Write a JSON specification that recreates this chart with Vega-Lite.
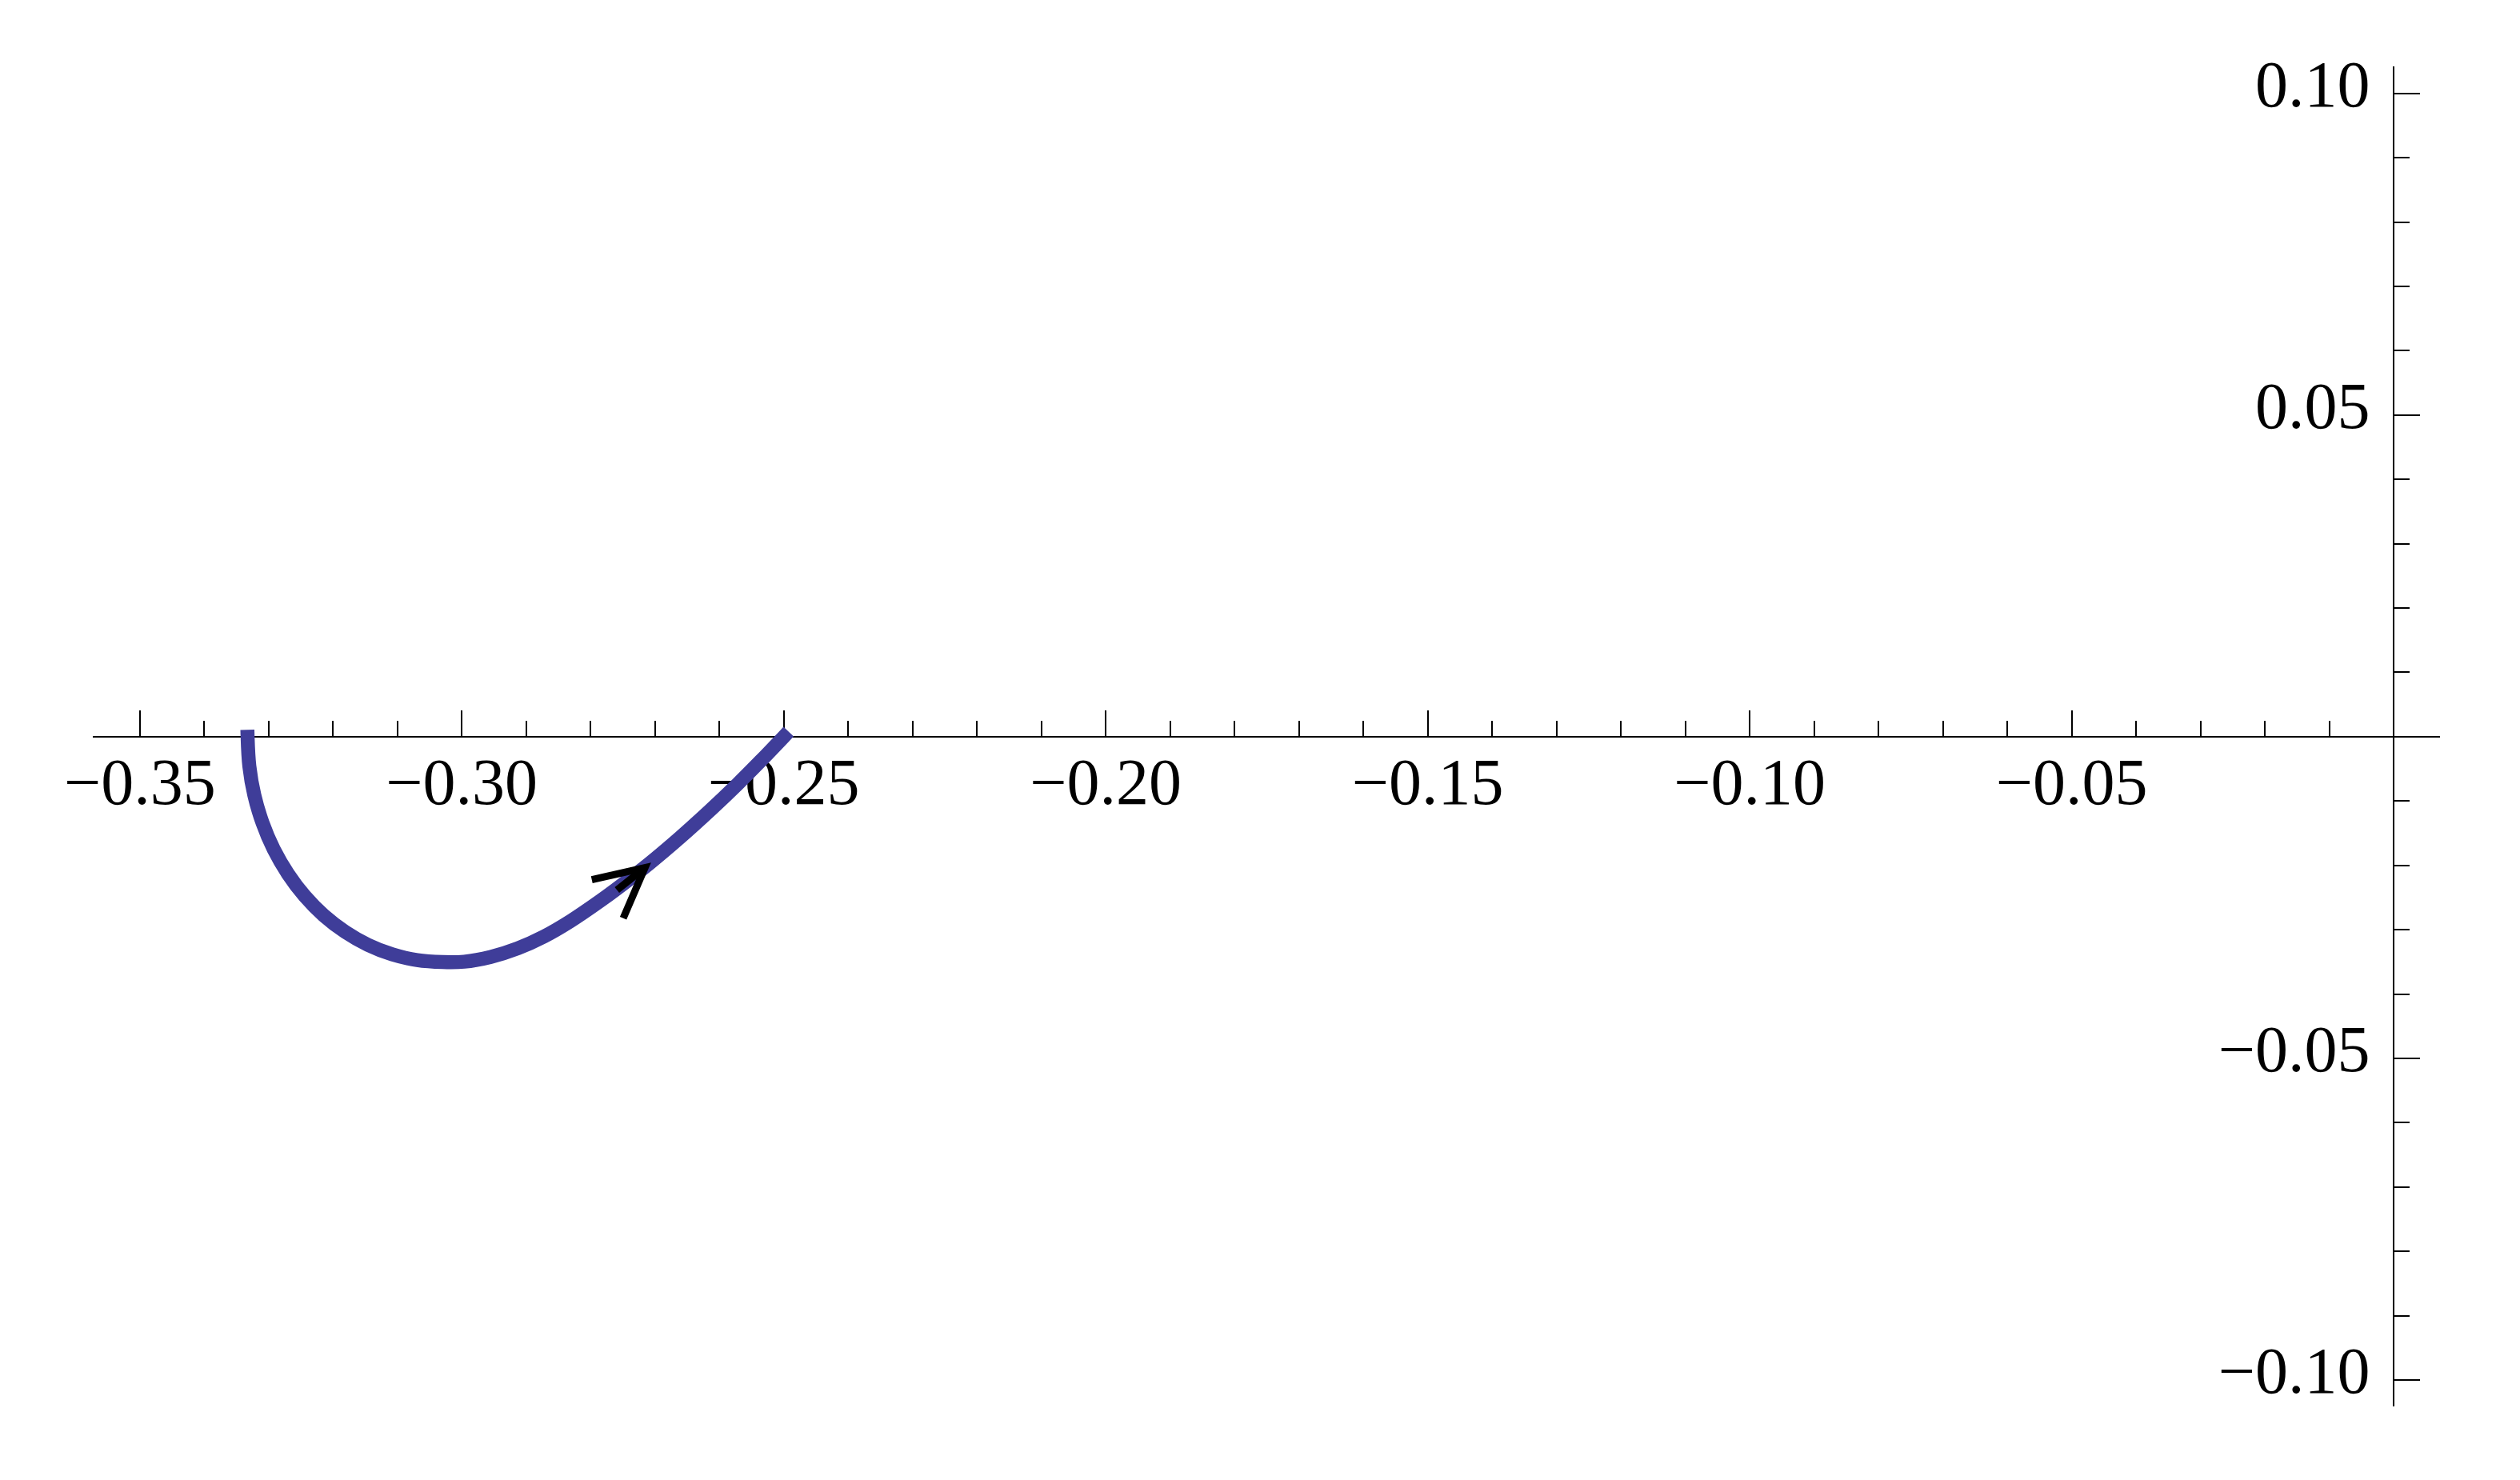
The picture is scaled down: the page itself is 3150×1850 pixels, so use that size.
{
  "$schema": "https://vega.github.io/schema/vega-lite/v6.json",
  "autosize": "none",
  "padding": {"left": 116, "top": 83, "right": 100, "bottom": 92},
  "width": 2934,
  "height": 1675,
  "background": "white",
  "config": {
    "view": {"stroke": null},
    "axis": {
      "grid": false,
      "title": null,
      "domainColor": "black",
      "tickColor": "black",
      "labelColor": "black",
      "labelFont": "Liberation Serif",
      "labelFontSize": 82,
      "labelLimit": 0,
      "domainWidth": 2,
      "tickWidth": 2,
      "translate": 0,
      "labelFlush": false,
      "labelOverlap": false,
      "labelBound": false
    }
  },
  "datasets": {
    "curve": [
      {"i": 1, "x": -0.33326, "y": 0},
      {"i": 2, "x": -0.33299, "y": -0.00457},
      {"i": 3, "x": -0.33222, "y": -0.00906},
      {"i": 4, "x": -0.33094, "y": -0.0134},
      {"i": 5, "x": -0.3292, "y": -0.01751},
      {"i": 6, "x": -0.32699, "y": -0.02132},
      {"i": 7, "x": -0.32439, "y": -0.02477},
      {"i": 8, "x": -0.32142, "y": -0.02779},
      {"i": 9, "x": -0.31812, "y": -0.03033},
      {"i": 10, "x": -0.31457, "y": -0.03236},
      {"i": 11, "x": -0.31082, "y": -0.03383},
      {"i": 12, "x": -0.30693, "y": -0.03473},
      {"i": 13, "x": -0.30298, "y": -0.03503},
      {"i": 14, "x": -0.29963, "y": -0.03497},
      {"i": 15, "x": -0.29553, "y": -0.03423},
      {"i": 16, "x": -0.2913, "y": -0.03288},
      {"i": 17, "x": -0.2872, "y": -0.03103},
      {"i": 18, "x": -0.28311, "y": -0.02865},
      {"i": 19, "x": -0.27851, "y": -0.02552},
      {"i": 20, "x": -0.27478, "y": -0.02276},
      {"i": 21, "x": -0.27093, "y": -0.01975},
      {"i": 22, "x": -0.26609, "y": -0.01565},
      {"i": 23, "x": -0.26174, "y": -0.01172},
      {"i": 24, "x": -0.25718, "y": -0.00737},
      {"i": 25, "x": -0.25366, "y": -0.00383},
      {"i": 26, "x": -0.25, "y": 0}
    ],
    "arrow": [
      {"seg": "head", "o": 1, "x": -0.27981, "y": -0.02222},
      {"seg": "head", "o": 2, "x": -0.27155, "y": -0.02036},
      {"seg": "head", "o": 3, "x": -0.27493, "y": -0.02822},
      {"seg": "shaft", "o": 1, "x": -0.2759, "y": -0.02382},
      {"seg": "shaft", "o": 2, "x": -0.27155, "y": -0.02036}
    ]
  },
  "layer": [
    {
      "data": {"name": "curve"},
      "mark": {"type": "line", "color": "#3f3d99", "strokeWidth": 17.5, "strokeCap": "square", "strokeJoin": "round", "interpolate": "catmull-rom"},
      "encoding": {
        "x": {
          "field": "x", "type": "quantitative",
          "scale": {"domain": [-0.3573, 0.0072], "nice": false, "zero": false},
          "axis": {"orient": "bottom", "offset": -837, "values": [-0.35, -0.3, -0.25, -0.2, -0.15, -0.1, -0.05], "format": ".2f", "tickSize": -33, "labelPadding": 51.8, "domain": true}
        },
        "y": {
          "field": "y", "type": "quantitative",
          "scale": {"domain": [-0.1041, 0.1042], "nice": false, "zero": false},
          "axis": {"orient": "left", "offset": -2876, "values": [-0.1, -0.05, 0.05, 0.1], "format": ".2f", "tickSize": -33, "labelPadding": 62.5, "labelOffset": -9, "domain": true}
        },
        "order": {"field": "i", "type": "quantitative"}
      }
    },
    {
      "data": {"name": "arrow"},
      "mark": {"type": "line", "color": "black", "strokeWidth": 9, "strokeCap": "butt", "strokeJoin": "miter"},
      "encoding": {
        "x": {
          "field": "x", "type": "quantitative",
          "scale": {"domain": [-0.3573, 0.0072], "nice": false, "zero": false},
          "axis": {"orient": "bottom", "offset": -837, "values": [-0.34, -0.33, -0.32, -0.31, -0.29, -0.28, -0.27, -0.26, -0.24, -0.23, -0.22, -0.21, -0.19, -0.18, -0.17, -0.16, -0.14, -0.13, -0.12, -0.11, -0.09, -0.08, -0.07, -0.06, -0.04, -0.03, -0.02, -0.01], "tickSize": -20, "labels": false, "domain": false}
        },
        "y": {
          "field": "y", "type": "quantitative",
          "scale": {"domain": [-0.1041, 0.1042], "nice": false, "zero": false},
          "axis": {"orient": "left", "offset": -2876, "values": [-0.09, -0.08, -0.07, -0.06, -0.04, -0.03, -0.02, -0.01, 0.01, 0.02, 0.03, 0.04, 0.06, 0.07, 0.08, 0.09], "tickSize": -20, "labels": false, "domain": false}
        },
        "detail": {"field": "seg", "type": "nominal"},
        "order": {"field": "o", "type": "quantitative"}
      }
    }
  ],
  "resolve": {"axis": {"x": "independent", "y": "independent"}}
}
